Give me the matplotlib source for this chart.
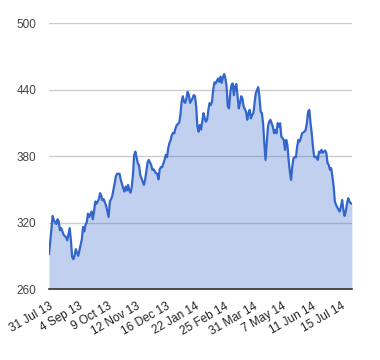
import matplotlib
matplotlib.use("Agg")
import matplotlib.pyplot as plt

# trading-day index and closing price
day = [0, 3, 4, 6, 7, 8, 9, 10, 12, 14, 15, 17, 18, 19, 20, 21, 22, 24, 25, 26,
       27, 28, 29, 30, 31, 32, 33, 35, 36, 37, 38, 39, 40, 41, 42, 43, 44, 45, 47, 48,
       49, 50, 51, 52, 53, 54, 55, 56, 58, 59, 61, 62, 63, 64, 65, 66, 67, 68, 69, 70,
       71, 73, 74, 75, 76, 77, 78, 79, 80, 81, 82, 84, 85, 86, 87, 88, 89, 90, 91, 92,
       93, 95, 96, 97, 98, 99, 100, 101, 102, 103, 104, 105, 107, 108, 109, 110, 111, 112, 113, 114,
       115, 116, 118, 119, 120, 121, 122, 123, 124, 125, 127, 128, 129, 130, 131, 132, 133, 134, 135, 136,
       137, 139, 140, 141, 142, 143, 144, 145, 146, 147, 148, 149, 150, 151, 152, 153, 154, 155, 156, 157,
       158, 159, 160, 162, 163, 164, 165, 166, 167, 168, 169, 170, 172, 173, 174, 175, 176, 177, 178, 179,
       180, 181, 182, 184, 185, 186, 187, 188, 189, 190, 191, 193, 194, 195, 196, 197, 198, 199, 200, 201,
       202, 203, 204, 205, 206, 207, 208, 210, 211, 212, 213, 214, 215, 216, 217, 218, 219, 220, 221, 222,
       223, 224, 225, 227, 228, 229, 230, 231, 232, 233, 234, 235, 236, 238, 239, 240, 241, 242, 243, 244,
       245, 246, 247, 248, 249]
price = [291.6, 326, 322, 318.7, 323, 321, 313, 315, 309, 306.7, 304, 315, 304, 289, 287, 290, 296, 290, 295, 300,
         305, 316, 312, 318, 320, 328, 325, 330, 323, 330, 339, 337, 339, 341, 346.5, 344, 340, 341, 335, 330,
         325, 339, 341, 344, 349.5, 355.5, 362, 364, 364, 358.5, 351, 348, 352.4, 349, 354, 349, 347, 352, 363, 381,
         384, 373.5, 371.6, 363, 360, 357, 354, 358.5, 366, 374, 376.5, 372, 367.5, 368, 366, 364.5, 364, 359, 368, 370,
         370, 376.5, 381, 379, 387, 391.6, 394.6, 399, 401, 400.5, 405, 408, 410, 417, 429, 434, 429, 428, 432, 438,
         435, 428, 432, 435, 434, 424.7, 406.6, 402, 408, 404, 418.7, 414, 411, 413, 421.7, 427.7, 426, 429, 440, 446.4,
         445.5, 450, 447, 451.7, 446, 451, 454, 450, 442.7, 424.7, 423, 436.8, 444, 445.5, 435, 442.7, 445, 433.7, 423, 427.7,
         434, 432, 424.7, 420, 412.7, 418.7, 421.7, 414, 417, 418.7, 427.7, 436.8, 442.2, 433.7, 420, 418.7, 409.7, 391.6, 376.5, 391.6,
         406.6, 411, 412.7, 406.6, 400.6, 403.6, 400.5, 409.7, 406.6, 409.7, 397.6, 394.6, 385.6, 394.6, 390, 376.5, 366, 358.5, 370.5, 378,
         379, 379, 388.5, 394.6, 393, 396, 400.6, 402, 403.6, 409.7, 420, 421.7, 409.7, 400.6, 388.5, 379.5, 379, 379.5, 376.5, 384,
         383, 385.6, 383, 385, 382.6, 373.5, 372, 367.5, 369, 361.5, 352.4, 339, 336, 331.6, 330, 334.4, 340.4, 331.6, 326, 330,
         337.4, 342, 339, 337.4, 337]

tick_days = [0, 24, 48, 72, 96, 120, 144, 168, 192, 216, 240]
tick_labels = ["31 Jul 13", "4 Sep 13", "9 Oct 13", "12 Nov 13", "16 Dec 13", "22 Jan 14",
               "25 Feb 14", "31 Mar 14", "7 May 14", "11 Jun 14", "15 Jul 14"]
y_ticks = [260, 320, 380, 440, 500]

plt.rcParams['font.family'] = ['Liberation Sans', 'DejaVu Sans']

fig = plt.figure(figsize=(3.8, 3.6), dpi=100)
ax = fig.add_axes([0.129, 0.197, 0.797, 0.739])

ax.fill_between(day, price, 260, color='#3366cc', alpha=0.3, linewidth=0, zorder=2)
ax.plot(day, price, color='#3366cc', linewidth=1.6, zorder=3)

ax.set_xlim(0, 249)
ax.set_ylim(260, 500)
ax.set_yticks(y_ticks)
ax.set_xticks(tick_days)
ax.set_xticklabels(tick_labels, rotation=30, ha='right', rotation_mode='anchor')

ax.grid(axis='y', color='#cccccc', linewidth=1, zorder=1)
ax.set_axisbelow(True)
for side in ['top', 'right', 'left']:
    ax.spines[side].set_visible(False)
ax.spines['bottom'].set_color('#333333')
ax.spines['bottom'].set_linewidth(1.2)
ax.spines['bottom'].set_zorder(4)

ax.tick_params(axis='both', length=0, labelsize=8.5, colors='#222222')
ax.tick_params(axis='y', pad=9, labelcolor='#444444')
ax.tick_params(axis='x', pad=8)

fig.savefig('out.png', dpi=100)
